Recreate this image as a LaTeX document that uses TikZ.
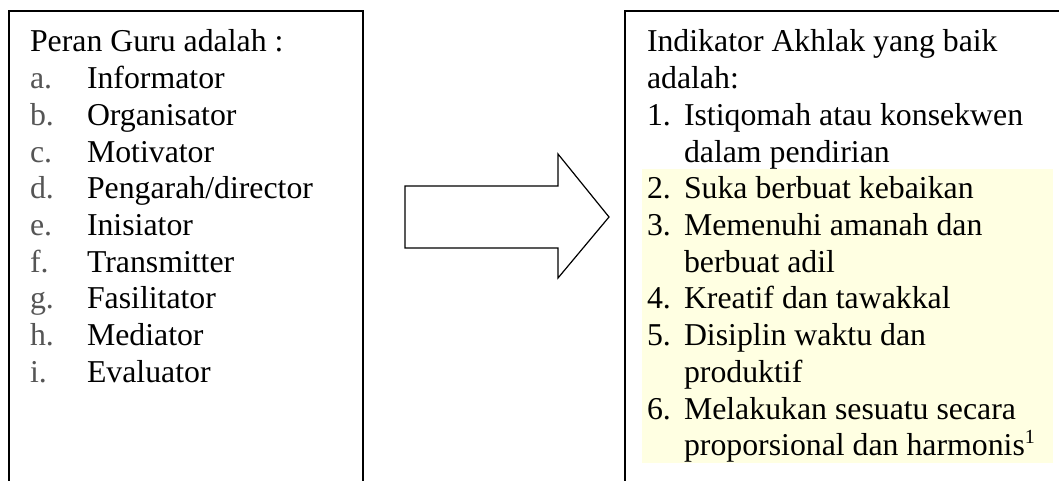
\documentclass[tikz,border=0pt]{standalone}
\usepackage{fontspec}
\setmainfont{Liberation Serif}
\definecolor{hl}{RGB}{255,255,226}
\definecolor{lbl}{RGB}{85,85,85}
\begin{document}
\begin{tikzpicture}[x=1pt,y=-1pt,
  txt/.style={anchor=base west,inner sep=0pt,outer sep=0pt,font=\fontsize{31.8}{36.7}\selectfont},
  lab/.style={txt,text=lbl},
  frame/.style={line width=1.5pt,black}]
\useasboundingbox (0,0) rectangle (1059,481);
% highlight
\fill[hl] (642,169) rectangle (1053,463);
% boxes (open at bottom, right box cut at right)
\draw[frame] (9,481) -- (9,11) -- (363,11) -- (363,481);
\draw[frame] (625,481) -- (625,11) -- (1059,11);
% arrow
\draw[line width=1.2pt,line join=miter] (405,186) -- (558,186) -- (558,154) -- (609,217) -- (558,278) -- (558,248) -- (405,248) -- cycle;
% left text
\node[txt] (lt) at (30,52) {Peran Guru adalah :};
\foreach \l/\t [count=\i] in {a./Informator,b./Organisator,c./Motivator,d./Pengarah\slash director,e./Inisiator,f./Transmitter,g./Fasilitator,h./Mediator,i./Evaluator}{
  \node[lab] (la\i) at (30,{52+36.7*\i}) {\l};
  \node[txt] (li\i) at (87,{52+36.7*\i}) {\t};
}
% right text
\node[txt] (rt1) at (647,52) {Indikator Akhlak yang baik};
\node[txt] (rt2) at (647,88.7) {adalah:};
\node[txt] (rn1) at (647,125.4) {1.};
\node[txt] (ri1) at (684,125.4) {Istiqomah atau konsekwen};
\node[txt] (ri1b) at (684,162.1) {dalam pendirian};
\node[txt] (rn2) at (647,198.8) {2.};
\node[txt] (ri2) at (684,198.8) {Suka berbuat kebaikan};
\node[txt] (rn3) at (647,235.5) {3.};
\node[txt] (ri3) at (684,235.5) {Memenuhi amanah dan};
\node[txt] (ri3b) at (684,272.2) {berbuat adil};
\node[txt] (rn4) at (647,308.9) {4.};
\node[txt] (ri4) at (684,308.9) {Kreatif dan tawakkal};
\node[txt] (rn5) at (647,345.6) {5.};
\node[txt] (ri5) at (684,345.6) {Disiplin waktu dan};
\node[txt] (ri5b) at (684,382.3) {produktif};
\node[txt] (rn6) at (647,419) {6.};
\node[txt] (ri6) at (684,419) {Melakukan sesuatu secara};
\node[txt] (ri6b) at (684,455.7) {proporsional dan harmonis\raisebox{12pt}{\fontsize{20}{20}\selectfont 1}};
\end{tikzpicture}
\end{document}
